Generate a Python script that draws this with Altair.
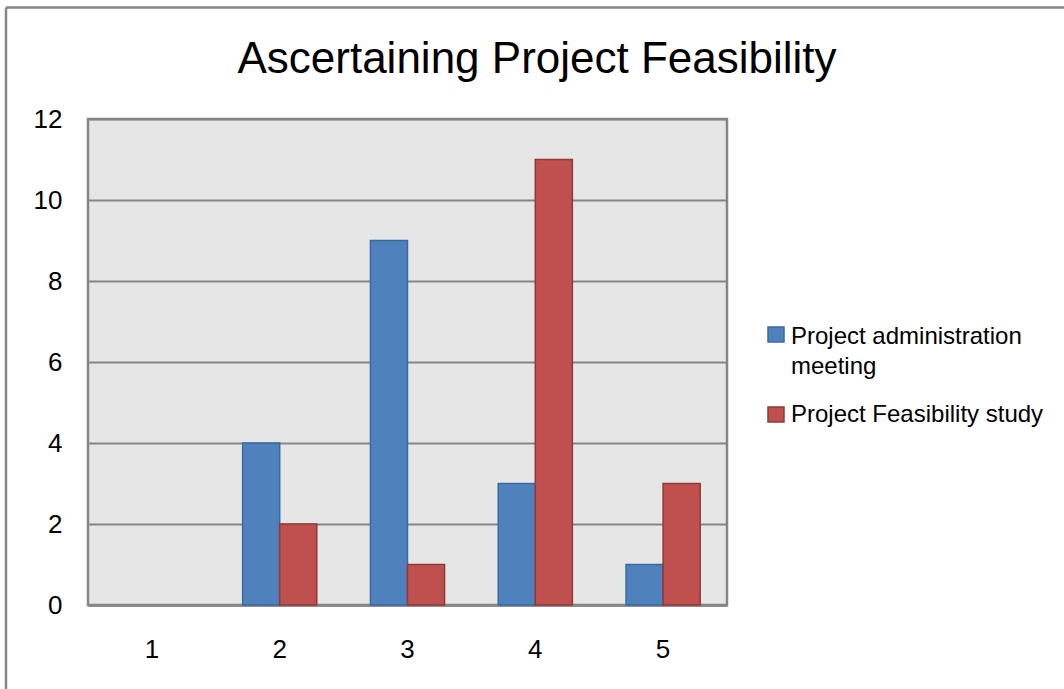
import altair as alt
import pandas as pd

categories = ["1", "2", "3", "4", "5"]
series_names = ["Project administration meeting", "Project Feasibility study"]
admin_meeting = [0, 4, 9, 3, 1]
feasibility_study = [0, 2, 1, 11, 3]
y_ticks = [0, 2, 4, 6, 8, 10, 12]
title_text = "Ascertaining Project Feasibility"

fills = ["#4F81BD", "#C0504D"]
strokes = ["#3B6A9E", "#8E3A38"]
FONT = "Liberation Sans Narrow, Liberation Sans, Arial Narrow, sans-serif"
GRAY = "#868686"

rows = []
for s, vals in zip(series_names, [admin_meeting, feasibility_study]):
    for c, v in zip(categories, vals):
        rows.append({"cat": c, "series": s, "value": v})
df = pd.DataFrame(rows)

W, H = 639, 486

bars = alt.Chart(df).transform_filter("datum.value > 0").mark_bar(strokeWidth=1.5).encode(
    x=alt.X("cat:N", sort=categories,
            scale=alt.Scale(domain=categories, paddingInner=0.42, paddingOuter=0.21),
            axis=alt.Axis(title=None, labelAngle=0, ticks=False, grid=False,
                          domain=True, domainColor=GRAY, domainWidth=2.5,
                          labelFont=FONT, labelFontSize=26, labelColor="#000000",
                          labelBaseline="alphabetic", labelPadding=52)),
    xOffset=alt.XOffset("series:N", sort=series_names,
                        scale=alt.Scale(domain=series_names, paddingInner=0, paddingOuter=0)),
    y=alt.Y("value:Q", scale=alt.Scale(domain=[0, 12], nice=False, zero=True),
            axis=alt.Axis(title=None, values=y_ticks, ticks=False, domain=False,
                          grid=True, gridColor=GRAY, gridWidth=2,
                          labelFont=FONT, labelFontSize=26, labelColor="#000000",
                          labelPadding=26)),
    color=alt.Color("series:N", scale=alt.Scale(domain=series_names, range=fills), legend=None),
    stroke=alt.Stroke("series:N", scale=alt.Scale(domain=series_names, range=strokes), legend=None),
)

# Legend (manual, to mimic wrapped label)
leg_df0 = pd.DataFrame({"s": [series_names[0]]})
leg_df1 = pd.DataFrame({"s": [series_names[1]]})

sw0 = alt.Chart(leg_df0).mark_rect(color=fills[0], stroke=strokes[0], strokeWidth=1.5).encode(
    x=alt.value(680), x2=alt.value(696), y=alt.value(208), y2=alt.value(223))
sw1 = alt.Chart(leg_df1).mark_rect(color=fills[1], stroke=strokes[1], strokeWidth=1.5).encode(
    x=alt.value(680), x2=alt.value(696), y=alt.value(288), y2=alt.value(303))
lt0 = alt.Chart(leg_df0).mark_text(align="left", baseline="alphabetic", font=FONT,
                                   fontSize=24, lineHeight=30, color="#000000",
                                   text=["Project administration", "meeting"]).encode(
    x=alt.value(703), y=alt.value(225))
lt1 = alt.Chart(leg_df1).mark_text(align="left", baseline="alphabetic", font=FONT,
                                   fontSize=24, color="#000000").encode(
    x=alt.value(703), y=alt.value(303), text="s:N")

title = alt.Chart(pd.DataFrame({"t": [title_text]})).mark_text(
    align="center", baseline="alphabetic", font=FONT, fontSize=44, color="#000000").encode(
    x=alt.value(537 - 88), y=alt.value(73 - 119), text="t:N")

border_left = alt.Chart(pd.DataFrame({"a": [0]})).mark_rule(color=GRAY, strokeWidth=2.5).encode(
    x=alt.value(6 - 88), y=alt.value(7.5 - 119), y2=alt.value(689 - 119 + 10))
border_top = alt.Chart(pd.DataFrame({"a": [0]})).mark_rule(color=GRAY, strokeWidth=2.5).encode(
    y=alt.value(7.5 - 119), x=alt.value(6 - 88), x2=alt.value(1064 - 88 + 10))

chart = alt.layer(bars, sw0, sw1, lt0, lt1, title, border_left, border_top).properties(
    width=W, height=H,
    autosize=alt.AutoSizeParams(type="none"),
    padding={"left": 88, "top": 119, "right": 1064 - 88 - W, "bottom": 689 - 119 - H},
    background="#FFFFFF",
).configure_view(
    fill="#E6E6E6", stroke=GRAY, strokeWidth=2.5
)

chart.save("out.html", embed_options={"renderer": "svg", "actions": False})
